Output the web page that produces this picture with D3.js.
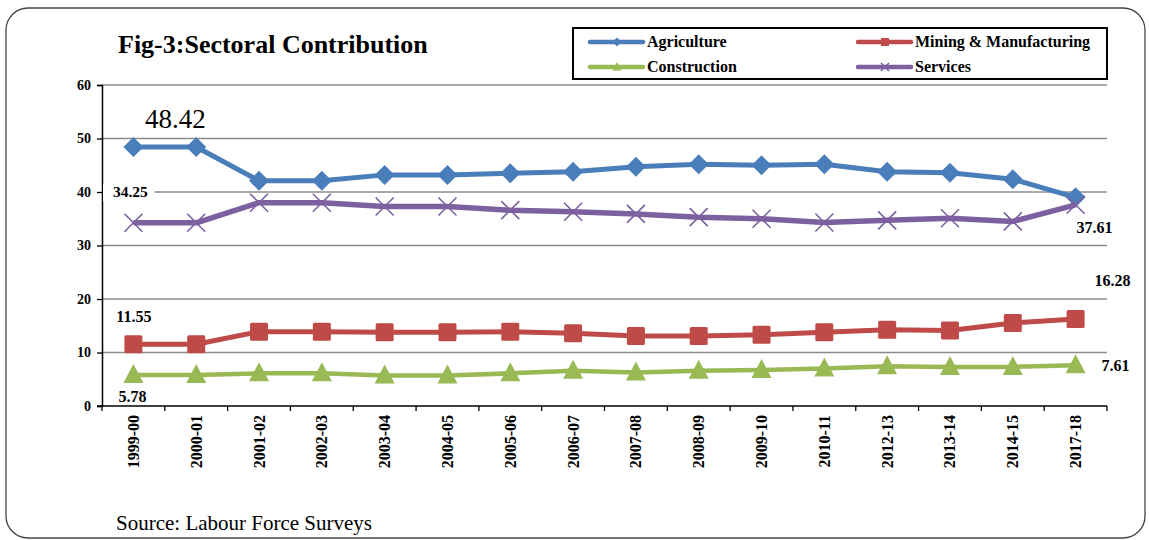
<!DOCTYPE html>
<html>
<head>
<meta charset="utf-8">
<script src="https://cdn.jsdelivr.net/npm/d3@7"></script>
<style>
  html, body { margin: 0; padding: 0; background: #fff; }
  svg { display: block; }
  svg text { font-family: "Liberation Serif", "Times New Roman", Times, serif; }
</style>
</head>
<body>
<svg id="chart" width="1149" height="540"></svg>
<script>
// Fiscal-year categories
const years = ["1999-00","2000-01","2001-02","2002-03","2003-04","2004-05","2005-06","2006-07",
               "2007-08","2008-09","2009-10","2010-11","2012-13","2013-14","2014-15","2017-18"];

// Share of employment by sector (%)
const agriculture   = [48.42,48.42,42.1,42.1,43.2,43.2,43.5,43.8,44.7,45.2,45.0,45.2,43.8,43.6,42.4,39.0];
const mining        = [11.55,11.55,13.9,13.9,13.8,13.8,13.9,13.6,13.1,13.1,13.3,13.8,14.25,14.1,15.5,16.28];
const construction  = [5.78,5.78,6.1,6.1,5.7,5.7,6.1,6.6,6.25,6.6,6.75,7.0,7.45,7.3,7.3,7.61];
const services      = [34.25,34.25,38.0,38.0,37.3,37.3,36.6,36.3,35.9,35.3,35.0,34.3,34.7,35.1,34.5,37.61];

const yTicks = [0,10,20,30,40,50,60];

const FONT = "'Liberation Serif', 'Times New Roman', Times, serif";

const svg = d3.select("#chart").attr("font-family", FONT);

// outer rounded frame
svg.append("rect")
  .attr("x", 6).attr("y", 8).attr("width", 1139).attr("height", 530)
  .attr("rx", 22).attr("ry", 22)
  .attr("fill", "none").attr("stroke", "#444").attr("stroke-width", 1.3);

// title
svg.append("text")
  .attr("x", 118).attr("y", 53)
  .attr("font-family", FONT)
  .attr("font-size", 26).attr("font-weight", "bold")
  .text("Fig-3:Sectoral Contribution");

const plotLeft = 102, plotRight = 1107, plotTop = 85, plotBottom = 406;

const x = d3.scaleBand().domain(years).range([plotLeft, plotRight]);
const y = d3.scaleLinear().domain([0, 60]).range([plotBottom, plotTop]);
const cx = d => x(d) + x.bandwidth() / 2;

// horizontal gridlines
svg.append("g")
  .selectAll("line")
  .data(yTicks.filter(t => t > 0))
  .join("line")
  .attr("x1", plotLeft).attr("x2", plotRight)
  .attr("y1", d => y(d)).attr("y2", d => y(d))
  .attr("stroke", "#8c8c8c").attr("stroke-width", 1.6);

// y axis
const yAxis = svg.append("g")
  .attr("transform", `translate(${plotLeft},0)`)
  .call(d3.axisLeft(y).tickValues(yTicks).tickSize(5).tickPadding(6).tickFormat(d3.format("d")));
yAxis.attr("font-family", FONT);
yAxis.select(".domain").attr("stroke", "#000").attr("stroke-width", 1.5);
yAxis.selectAll(".tick line").attr("stroke", "#000").attr("stroke-width", 1.3);
yAxis.selectAll("text")
  .attr("font-family", FONT)
  .attr("font-size", 14).attr("font-weight", "bold").attr("fill", "#000");

// x axis: ticks at category boundaries
const xg = svg.append("g").attr("transform", `translate(0,${plotBottom})`);
xg.append("line")
  .attr("x1", plotLeft - 5).attr("x2", plotRight)
  .attr("stroke", "#000").attr("stroke-width", 1.5);
const bounds = years.map(d => x(d)).concat([plotRight]);
xg.selectAll("line.tk")
  .data(bounds)
  .join("line").attr("class", "tk")
  .attr("x1", d => d).attr("x2", d => d)
  .attr("y1", 0).attr("y2", 5)
  .attr("stroke", "#000").attr("stroke-width", 1.3);
xg.selectAll("text")
  .data(years)
  .join("text")
  .attr("transform", d => `translate(${cx(d) + 5.5},9) rotate(-90)`)
  .attr("text-anchor", "end")
  .attr("font-family", FONT)
  .attr("font-size", 16).attr("font-weight", "bold")
  .text(d => d);

// series definitions
const series = [
  { name: "Agriculture", values: agriculture, color: "#4A7EBB", width: 5, marker: "diamond" },
  { name: "Mining & Manufacturing", values: mining, color: "#BE4B48", width: 5, marker: "square" },
  { name: "Construction", values: construction, color: "#98B954", width: 4.5, marker: "triangle" },
  { name: "Services", values: services, color: "#7D60A0", width: 5.5, marker: "cross" }
];

const line = d3.line().x((d, i) => cx(years[i])).y(d => y(d));

function drawMarker(g, type, color, px, py, scale) {
  const s = scale || 1;
  if (type === "diamond") {
    g.append("path")
      .attr("d", `M${px},${py - 10 * s}L${px + 10 * s},${py}L${px},${py + 10 * s}L${px - 10 * s},${py}Z`)
      .attr("fill", color);
  } else if (type === "square") {
    g.append("rect")
      .attr("x", px - 9 * s).attr("y", py - 9 * s)
      .attr("width", 18 * s).attr("height", 18 * s)
      .attr("rx", 1.5 * s)
      .attr("fill", color);
  } else if (type === "triangle") {
    g.append("path")
      .attr("d", `M${px},${py - 11 * s}L${px + 10 * s},${py + 8 * s}L${px - 10 * s},${py + 8 * s}Z`)
      .attr("fill", color);
  } else if (type === "cross") {
    const r = 9 * s;
    g.append("path")
      .attr("d", `M${px - r},${py - r}L${px + r},${py + r}M${px - r},${py + r}L${px + r},${py - r}`)
      .attr("stroke", color).attr("stroke-width", 1.6).attr("fill", "none");
  }
}

// draw order: construction, mining, agriculture, services
[series[2], series[1], series[0], series[3]].forEach(s => {
  const g = svg.append("g");
  g.append("path")
    .datum(s.values)
    .attr("d", line)
    .attr("fill", "none")
    .attr("stroke", s.color)
    .attr("stroke-width", s.width)
    .attr("stroke-linejoin", "round");
  s.values.forEach((v, i) => drawMarker(g, s.marker, s.color, cx(years[i]), y(v)));
});

// value labels (first and last points)
const fmt = d3.format(".2f");
const labels = [
  { text: fmt(agriculture[0]), x: cx(years[0]) + 42, y: y(agriculture[0]) - 19, size: 27, bold: false, bg: false },
  { text: fmt(services[0]), x: cx(years[0]) - 3, y: y(services[0]) - 25.5, size: 15.5, bold: true, bg: true },
  { text: fmt(services[15]), x: cx(years[15]) + 19, y: y(services[15]) + 28, size: 16, bold: true, bg: false },
  { text: fmt(mining[15]), x: cx(years[15]) + 37, y: y(mining[15]) - 33, size: 16, bold: true, bg: false },
  { text: fmt(mining[0]), x: cx(years[0]) + 0.5, y: y(mining[0]) - 22, size: 16, bold: true, bg: false },
  { text: fmt(construction[0]), x: cx(years[0]) - 1, y: y(construction[0]) + 26.5, size: 16, bold: true, bg: false },
  { text: fmt(construction[15]), x: cx(years[15]) + 40, y: y(construction[15]) + 6, size: 16, bold: true, bg: false }
];
const lab = svg.append("g");
// white plate behind the label that sits on a gridline
labels.filter(d => d.bg).forEach(d => {
  lab.append("rect")
    .attr("x", plotLeft + 1).attr("y", d.y - 13)
    .attr("width", d.x - plotLeft + 23).attr("height", 17)
    .attr("fill", "#fff");
});
lab.selectAll("text")
  .data(labels)
  .join("text")
  .attr("x", d => d.x).attr("y", d => d.y)
  .attr("text-anchor", "middle")
  .attr("font-family", FONT)
  .attr("font-size", d => d.size)
  .attr("font-weight", d => d.bold ? "bold" : "normal")
  .text(d => d.text);

// legend
const lg = svg.append("g");
lg.append("rect")
  .attr("x", 573).attr("y", 28).attr("width", 534).attr("height", 51)
  .attr("fill", "#fff").attr("stroke", "#000").attr("stroke-width", 2);
const legendPos = [
  { s: series[0], x: 590, y: 42 },
  { s: series[1], x: 858, y: 42 },
  { s: series[2], x: 590, y: 67 },
  { s: series[3], x: 858, y: 67 }
];
legendPos.forEach(p => {
  lg.append("line")
    .attr("x1", p.x).attr("x2", p.x + 53)
    .attr("y1", p.y).attr("y2", p.y)
    .attr("stroke", p.s.color).attr("stroke-width", 4.5)
    .attr("stroke-linecap", "round");
  drawMarker(lg, p.s.marker, p.s.color, p.x + 27, p.y, 0.45);
  lg.append("text")
    .attr("x", p.x + 57).attr("y", p.y + 5)
    .attr("font-family", FONT)
    .attr("font-size", 16).attr("font-weight", "bold")
    .text(p.s.name);
});

// source note
svg.append("text")
  .attr("x", 116).attr("y", 530)
  .attr("font-family", FONT)
  .attr("font-size", 21)
  .text("Source: Labour Force Surveys");
</script>
</body>
</html>
